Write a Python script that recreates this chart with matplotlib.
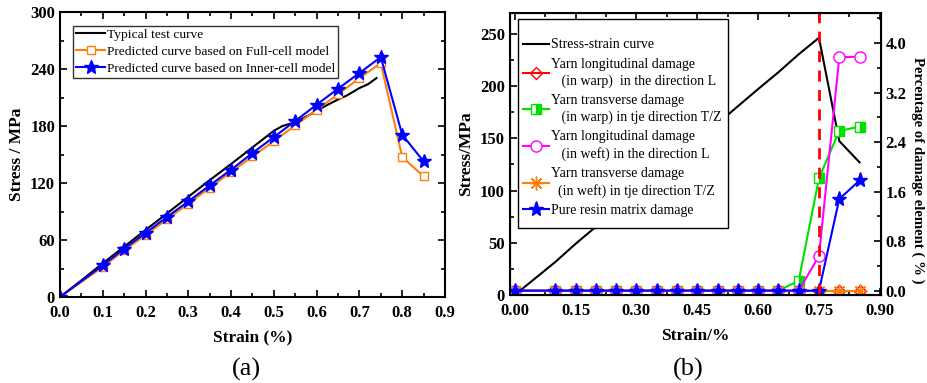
import matplotlib
matplotlib.use('Agg')
import matplotlib.pyplot as plt
from matplotlib.ticker import MultipleLocator
from matplotlib.patches import Rectangle

plt.rcParams['font.family'] = ['Liberation Serif', 'DejaVu Serif']

# (a) stress-strain curves
strain = [0.0, 0.1, 0.15, 0.2, 0.25, 0.3, 0.35, 0.4, 0.45, 0.5, 0.55, 0.6, 0.65, 0.7, 0.75, 0.8, 0.85]
full_cell = [0, 31.6, 49, 65.3, 81.8, 98.2, 115, 131.6, 148, 164.2, 180.7, 197.2, 213.3, 230.5, 246.3, 147.4, 127]
inner_cell = [0, 33.3, 50.9, 67.4, 84.2, 100.7, 117.5, 134, 151.6, 168.4, 185.3, 202.5, 219.3, 235.8, 252.6, 170.9, 142.8]
test_strain = [0.0, 0.05, 0.1, 0.15, 0.2, 0.25, 0.3, 0.35, 0.4, 0.45, 0.5, 0.52, 0.55, 0.58, 0.6, 0.62,
               0.65, 0.67, 0.7, 0.72, 0.74]
test_stress = [0, 17.5, 35.5, 53, 70.5, 88, 105.5, 123, 140, 157.5, 175, 180, 184, 191, 196, 201,
               208, 212, 220, 224, 230.5]

# (b) damage percentages
dmg_long_warp = [0] * 17
dmg_trans_warp = [0, 0, 0, 0, 0, 0, 0, 0, 0, 0, 0, 0, 0, 0.16, 1.82, 2.58, 2.65]
dmg_long_weft = [0, 0, 0, 0, 0, 0, 0, 0, 0, 0, 0, 0, 0, 0, 0.56, 3.77, 3.78]
dmg_trans_weft = [0] * 17
dmg_resin = [0, 0, 0, 0, 0, 0, 0, 0, 0, 0, 0, 0, 0, 0, 0, 1.48, 1.78]

fig = plt.figure(figsize=(9.27, 3.83), dpi=100)
ax1 = fig.add_axes([0.0647, 0.2245, 0.4153, 0.744])
ax2 = fig.add_axes([0.550, 0.2298, 0.400, 0.7362])

tick_font = dict(fontsize=12, fontweight='bold')

# ---- panel (a)
ax1.plot(test_strain, test_stress, color='black', lw=1.5, label='Typical test curve')
ax1.plot(strain, full_cell, color='#ff7f0e', lw=1.5, marker='s', ms=6, mfc='white',
         mec='#ff7f0e', label='Predicted curve based on Full-cell model')
ax1.plot(strain, inner_cell, color='blue', lw=1.5, marker='*', ms=10,
         label='Predicted curve based on Inner-cell model')
ax1.xaxis.set_minor_locator(MultipleLocator(0.05))
ax1.yaxis.set_minor_locator(MultipleLocator(30))
ax1.tick_params(which='both', direction='in', top=True, right=True, width=1.2)
ax1.tick_params(which='major', length=5)
ax1.tick_params(which='minor', length=3)
ax1.tick_params(axis='x', pad=6)
xt1 = [0.0, 0.1, 0.2, 0.3, 0.4, 0.5, 0.6, 0.7, 0.8, 0.9]
ax1.set_xticks(xt1)
ax1.set_xticklabels(['%.1f' % v for v in xt1], **tick_font)
yt1 = [0, 60, 120, 180, 240, 300]
ax1.set_yticks(yt1)
ax1.set_yticklabels([str(v) for v in yt1], **tick_font)
ax1.set_xlim(0, 0.9)
ax1.set_ylim(0, 300)
ax1.set_xlabel('Strain (%)', fontsize=12.5, fontweight='bold', labelpad=6)
ax1.set_ylabel('Stress / MPa', fontsize=12.5, fontweight='bold')
for s in ax1.spines.values():
    s.set_linewidth(1.5)
leg1 = ax1.legend(loc='upper left', bbox_to_anchor=(0.034, 0.952), fontsize=9.7, frameon=True,
                  fancybox=False, edgecolor='black', handlelength=2.2, borderpad=0.2,
                  labelspacing=0.35, handletextpad=0.1, borderaxespad=0)
leg1.get_frame().set_linewidth(1.0)

# ---- panel (b)
ax3 = ax2.twinx()
ax2.plot(strain, full_cell, color='black', lw=1.5, label='Stress-strain curve')

ax3.plot(strain, dmg_long_warp, color='red', lw=1.5, marker='D', ms=6, mfc='none',
         label='Yarn longitudinal damage\n   (in warp)  in the direction L')
ax3.plot(strain, dmg_trans_warp, color='#00e000', lw=1.5, marker='s', ms=7, fillstyle='right',
         mfc='#00e000', mfcalt='white', mec='#00e000',
         label='Yarn transverse damage\n   (in warp) in tje direction T/Z')
ax3.plot(strain, dmg_long_weft, color='magenta', lw=1.5, marker='o', ms=8, mfc='white',
         label='Yarn longitudinal damage\n   (in weft) in the direction L')
ax3.plot(strain, dmg_trans_weft, color='#ff7f0e', lw=1.5, marker=(8, 2, 0), ms=10,
         label='Yarn transverse damage\n  (in weft) in tje direction T/Z')
ax3.plot(strain, dmg_resin, color='blue', lw=1.5, marker='*', ms=11,
         label='Pure resin matrix damage')
ax3.axvline(0.75, color='red', lw=2, ls=(0, (4, 3)))

ax2.xaxis.set_minor_locator(MultipleLocator(0.075))
ax2.yaxis.set_minor_locator(MultipleLocator(25))
ax3.yaxis.set_minor_locator(MultipleLocator(0.4))
ax2.tick_params(which='both', direction='in', top=True, width=1.2)
ax3.tick_params(which='both', direction='in', width=1.2)
ax2.tick_params(axis='x', pad=6)
for a in (ax2, ax3):
    a.tick_params(which='major', length=5)
    a.tick_params(which='minor', length=3)

xt = [0.0, 0.15, 0.3, 0.45, 0.6, 0.75, 0.9]
ax2.set_xticks(xt)
ax2.set_xticklabels(['%.2f' % v for v in xt], **tick_font)
yt = [0, 50, 100, 150, 200, 250]
ax2.set_yticks(yt)
ax2.set_yticklabels([str(v) for v in yt], **tick_font)
rt = [0.0, 0.8, 1.6, 2.4, 3.2, 4.0]
ax3.set_yticks(rt)
ax3.set_yticklabels(['%.1f' % v for v in rt], **tick_font)
ax2.set_xlim(-0.012, 0.902)
ax2.set_ylim(0, 270)
ax3.set_ylim(-0.07, 4.485)

ax2.set_xlabel('Strain/%', fontsize=12.5, fontweight='bold', labelpad=6)
ax2.set_ylabel('Stress/MPa', fontsize=12.5, fontweight='bold')
ax3.set_ylabel('Percentage of damage element ( % )', fontsize=10.6, fontweight='bold',
               rotation=-90, va='center')
ax3.yaxis.set_label_coords(1.10, 0.443)
for s in ax3.spines.values():
    s.set_linewidth(1.5)

# legend frame drawn separately (taller padding than the legend's own)
ax3.add_patch(Rectangle((0.0216, 0.2376), 0.568, 0.7414, transform=ax3.transAxes,
                        facecolor='white', edgecolor='black', lw=1.0, zorder=4.9))
h1, l1 = ax2.get_legend_handles_labels()
h2, l2 = ax3.get_legend_handles_labels()
leg2 = ax3.legend(h1 + h2, l1 + l2, loc='upper left', bbox_to_anchor=(0.035, 0.91), fontsize=10.0,
                  frameon=False, handlelength=1.9, borderpad=0, labelspacing=0.45,
                  handletextpad=0.15, borderaxespad=0)
for t in leg2.get_texts():
    t.set_linespacing(1.35)

fig.text(0.266, 0.02, '(a)', fontsize=19, ha='center')
fig.text(0.742, 0.02, '(b)', fontsize=19, ha='center')

fig.savefig('out.png', dpi=100)
